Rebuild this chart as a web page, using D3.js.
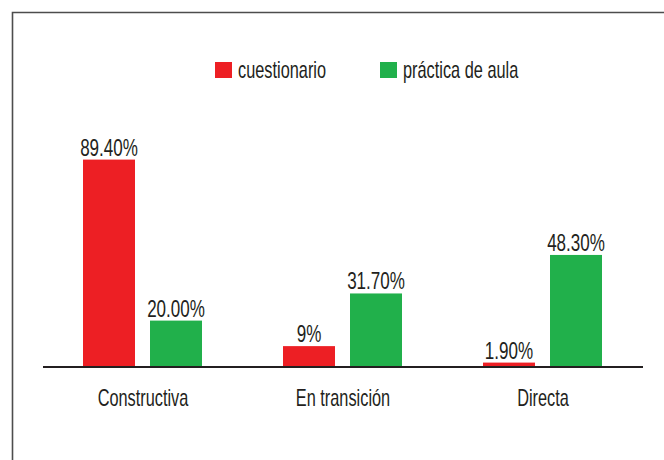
<!DOCTYPE html>
<html>
<head>
<meta charset="utf-8">
<script src="https://cdn.jsdelivr.net/npm/d3@7"></script>
<style>
  html, body { margin: 0; padding: 0; background: #fff; }
  text { font-family: "Liberation Sans", Arial, sans-serif; fill: #231f20; }
</style>
</head>
<body>
<svg width="664" height="460"></svg>
<script>
// data
const categories = ['Constructiva', 'En transición', 'Directa'];
const seriesNames = ['cuestionario', 'práctica de aula'];
const cuestionario = [89.4, 9, 1.9];
const practica = [20.0, 31.7, 48.3];
const valueLabels = [['89.40%', '9%', '1.90%'], ['20.00%', '31.70%', '48.30%']];
const colors = ['#ed1f24', '#21b04b'];

(() => {
    const svg = d3.select('svg');
    const sx = 0.71; // squeeze text to look condensed

    // frame (left + top only)
    svg.append('path')
            .attr('d', 'M12.5,460 V12.5 H664')
            .attr('fill', 'none')
            .attr('stroke', '#4d4d4d')
            .attr('stroke-width', 1.6);

    const x0 = d3.scaleBand()
            .domain(categories)
            .range([43, 643]);

    const x1 = d3.scaleBand()
            .domain(seriesNames)
            .range([40, 159])
            .paddingInner(0.224);

    const y = d3.scaleLinear()
            .domain([0, 100])
            .range([367, 135]);

    const rows = categories.map((c, i) => ({
        cat: c,
        vals: [cuestionario[i], practica[i]].map((v, j) => ({
            key: seriesNames[j], v: v, label: valueLabels[j][i], color: colors[j]
        }))
    }));

    const g = svg.append('g')
            .selectAll('g')
            .data(rows)
            .enter().append('g')
            .attr('transform', d => `translate(${x0(d.cat)},0)`);

    g.selectAll('rect')
            .data(d => d.vals)
            .enter().append('rect')
            .attr('x', d => x1(d.key))
            .attr('y', d => y(d.v))
            .attr('width', x1.bandwidth())
            .attr('height', d => y(0) - y(d.v))
            .attr('fill', d => d.color);

    g.selectAll('text.val')
            .data(d => d.vals)
            .enter().append('text')
            .attr('class', 'val')
            .attr('text-anchor', 'middle')
            .attr('font-size', 24)
            .attr('transform', d => `translate(${x1(d.key) + x1.bandwidth() / 2},${y(d.v) - 4}) scale(${sx},1)`)
            .text(d => d.label);

    // axis line
    svg.append('line')
            .attr('x1', 43).attr('x2', 643)
            .attr('y1', y(0)).attr('y2', y(0))
            .attr('stroke', '#231f20')
            .attr('stroke-width', 2);

    // category labels
    svg.append('g')
            .selectAll('text')
            .data(categories)
            .enter().append('text')
            .attr('text-anchor', 'middle')
            .attr('font-size', 23)
            .attr('transform', d => `translate(${x0(d) + x0.bandwidth() / 2},406) scale(${sx},1)`)
            .text(d => d);

    // legend
    const legendX = [215, 380];
    const legend = svg.append('g')
            .selectAll('g')
            .data(seriesNames)
            .enter().append('g')
            .attr('transform', (d, i) => `translate(${legendX[i]},62)`);

    legend.append('rect')
            .attr('width', 17)
            .attr('height', 16)
            .attr('fill', (d, i) => colors[i]);

    legend.append('text')
            .attr('font-size', 23)
            .attr('transform', `translate(23,16) scale(${sx},1)`)
            .text(d => d);
})();
</script>
</body>
</html>
